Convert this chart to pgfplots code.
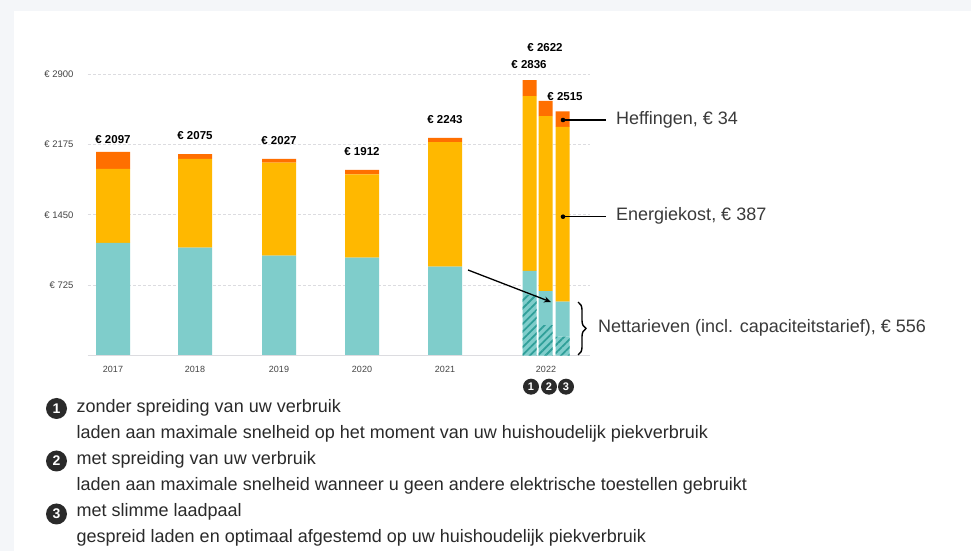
\documentclass[border=0pt]{standalone}
\usepackage{fontspec}
\setmainfont{Liberation Sans}
\usepackage{pgfplots}
\pgfplotsset{compat=1.18}
\usepackage{pgfplotstable}
\usetikzlibrary{patterns.meta,decorations.pathreplacing,arrows.meta}

\definecolor{tealc}{HTML}{7FCDCB}
\definecolor{hatchc}{HTML}{2F9F99}
\definecolor{yellowc}{HTML}{FFB800}
\definecolor{orangec}{HTML}{FF6F00}
\definecolor{bgc}{HTML}{F4F6F9}
\definecolor{gridc}{HTML}{DCDCE0}
\definecolor{txtc}{HTML}{444444}
\definecolor{annc}{HTML}{3A3A3A}
\definecolor{darkc}{HTML}{2A2A2A}

\pgfplotstableread{
x teal energy heff total
113 1161 762 174 2097
195 1112 913 50 2075
279 1030 958 39 2027
362 1009 858 45 1912
445 917 1281 45 2243
}\mainbars

\pgfplotstableread{
x hatch plain energy heff
529.7 625 247 1800 164
545.7 316 350 1800 156
562.7 196 360 1800 159
}\newbars

\pgfplotsset{
  basestyle/.style={
    scale only axis, width=502pt, height=281.7pt,
    xmin=88, xmax=590, ymin=0, ymax=2900,
    at={(88pt,195.3pt)}, anchor=south west,
    clip=false, ybar stacked,
    axis line style={draw=none}, tick style={draw=none},
  }
}

\begin{document}
\begin{tikzpicture}
\fill[bgc] (0,0) rectangle (971pt,551pt);
\fill[white] (14pt,0) rectangle (971pt,540pt);

\begin{axis}[basestyle, bar width=34,
  ytick={725,1450,2175,2900}, yticklabels={€ 725,€ 1450,€ 2175,€ 2900},
  xtick={113,195,279,362,445,546}, xticklabels={2017,2018,2019,2020,2021,2022},
  ymajorgrids, grid style={gridc, dash pattern=on 2.5pt off 2.5pt, line width=0.7pt},
  yticklabel style={font=\fontsize{9.5}{11}\selectfont, text=txtc, xshift=-11pt},
  xticklabel style={font=\fontsize{9}{11}\selectfont, text=txtc, yshift=-7pt},
]
\draw[gridc, line width=0.8pt] (axis cs:88,0) -- (axis cs:590,0);
\addplot[fill=tealc, draw=none] table[x=x,y=teal]{\mainbars};
\addplot[fill=yellowc, draw=none] table[x=x,y=energy]{\mainbars};
\addplot[fill=orangec, draw=none, point meta=explicit symbolic,
  nodes near coords={€ \pgfplotspointmeta},
  nodes near coords style={font=\bfseries\fontsize{11.5}{13}\selectfont, text=black, anchor=south, yshift=13pt}]
  table[x=x,y=heff,meta=total]{\mainbars};
\end{axis}

\begin{axis}[basestyle, bar width=14, xtick=\empty, ytick=\empty]
\addplot[fill=tealc, draw=none, postaction={pattern color=hatchc, pattern={Lines[angle=45,distance=5.5pt,line width=1.8pt]}}] table[x=x,y=hatch]{\newbars};
\addplot[fill=tealc, draw=none] table[x=x,y=plain]{\newbars};
\addplot[fill=yellowc, draw=none] table[x=x,y=energy]{\newbars};
\addplot[fill=orangec, draw=none] table[x=x,y=heff]{\newbars};
\node[font=\bfseries\fontsize{11.5}{13}\selectfont] at (axis cs:529,2995) {€ 2836};
\node[font=\bfseries\fontsize{11.5}{13}\selectfont] at (axis cs:545,3170) {€ 2622};
\node[font=\bfseries\fontsize{11.5}{13}\selectfont] at (axis cs:565,2665) {€ 2515};
\end{axis}

% circles under 2022
\foreach \xx/\n in {531/1,549/2,566/3}{
  \fill[darkc] (\xx pt,164.3pt) circle (8pt);
  \node[text=white, font=\bfseries\fontsize{11}{12}\selectfont] at (\xx pt,164.3pt) {\n};
}

% annotations
\fill (563pt,431pt) circle (2.3pt);
\draw[line width=1.3pt] (563pt,431pt) -- (606pt,431pt);
\node[anchor=mid west, inner sep=0pt, text=annc, font=\fontsize{18}{21}\selectfont] at (616pt,429.5pt) {Heffingen, € 34};
\fill (563pt,334.3pt) circle (2.3pt);
\draw[line width=1.3pt] (563pt,334.3pt) -- (606pt,334.3pt);
\node[anchor=mid west, inner sep=0pt, text=annc, font=\fontsize{18}{21}\selectfont] at (616pt,333pt) {Energiekost, € 387};
\draw[decorate, decoration={brace, amplitude=8pt}, line width=1.4pt] (578pt,249pt) -- (578pt,196pt);
\node[anchor=mid west, inner sep=0pt, text=annc, font=\fontsize{18}{21}\selectfont] at (598pt,221pt) {Nettarieven (incl. capaciteitstarief), € 556};
\draw[-{Stealth[length=7pt,width=6pt]}, line width=1.3pt] (468pt,281pt) -- (551pt,249pt);

% legend
\foreach \yy/\n in {142.5/1,90/2,37/3}{
  \fill[darkc] (56.5pt,\yy pt) circle (10.5pt);
  \node[text=white, font=\bfseries\fontsize{14}{16}\selectfont] at (56.5pt,\yy pt) {\n};
}
\begin{scope}[every node/.style={anchor=mid west, inner sep=0pt, text=darkc, font=\fontsize{18}{21}\selectfont}]
\node at (76.5pt,141pt) {zonder spreiding van uw verbruik};
\node at (76.5pt,115pt) {laden aan maximale snelheid op het moment van uw huishoudelijk piekverbruik};
\node at (76.5pt,89pt) {met spreiding van uw verbruik};
\node at (76.5pt,63pt) {laden aan maximale snelheid wanneer u geen andere elektrische toestellen gebruikt};
\node at (76.5pt,37pt) {met slimme laadpaal};
\node at (76.5pt,11pt) {gespreid laden en optimaal afgestemd op uw huishoudelijk piekverbruik};
\end{scope}

\pgfresetboundingbox
\path[use as bounding box] (0,0) rectangle (971pt,551pt);
\end{tikzpicture}
\end{document}
